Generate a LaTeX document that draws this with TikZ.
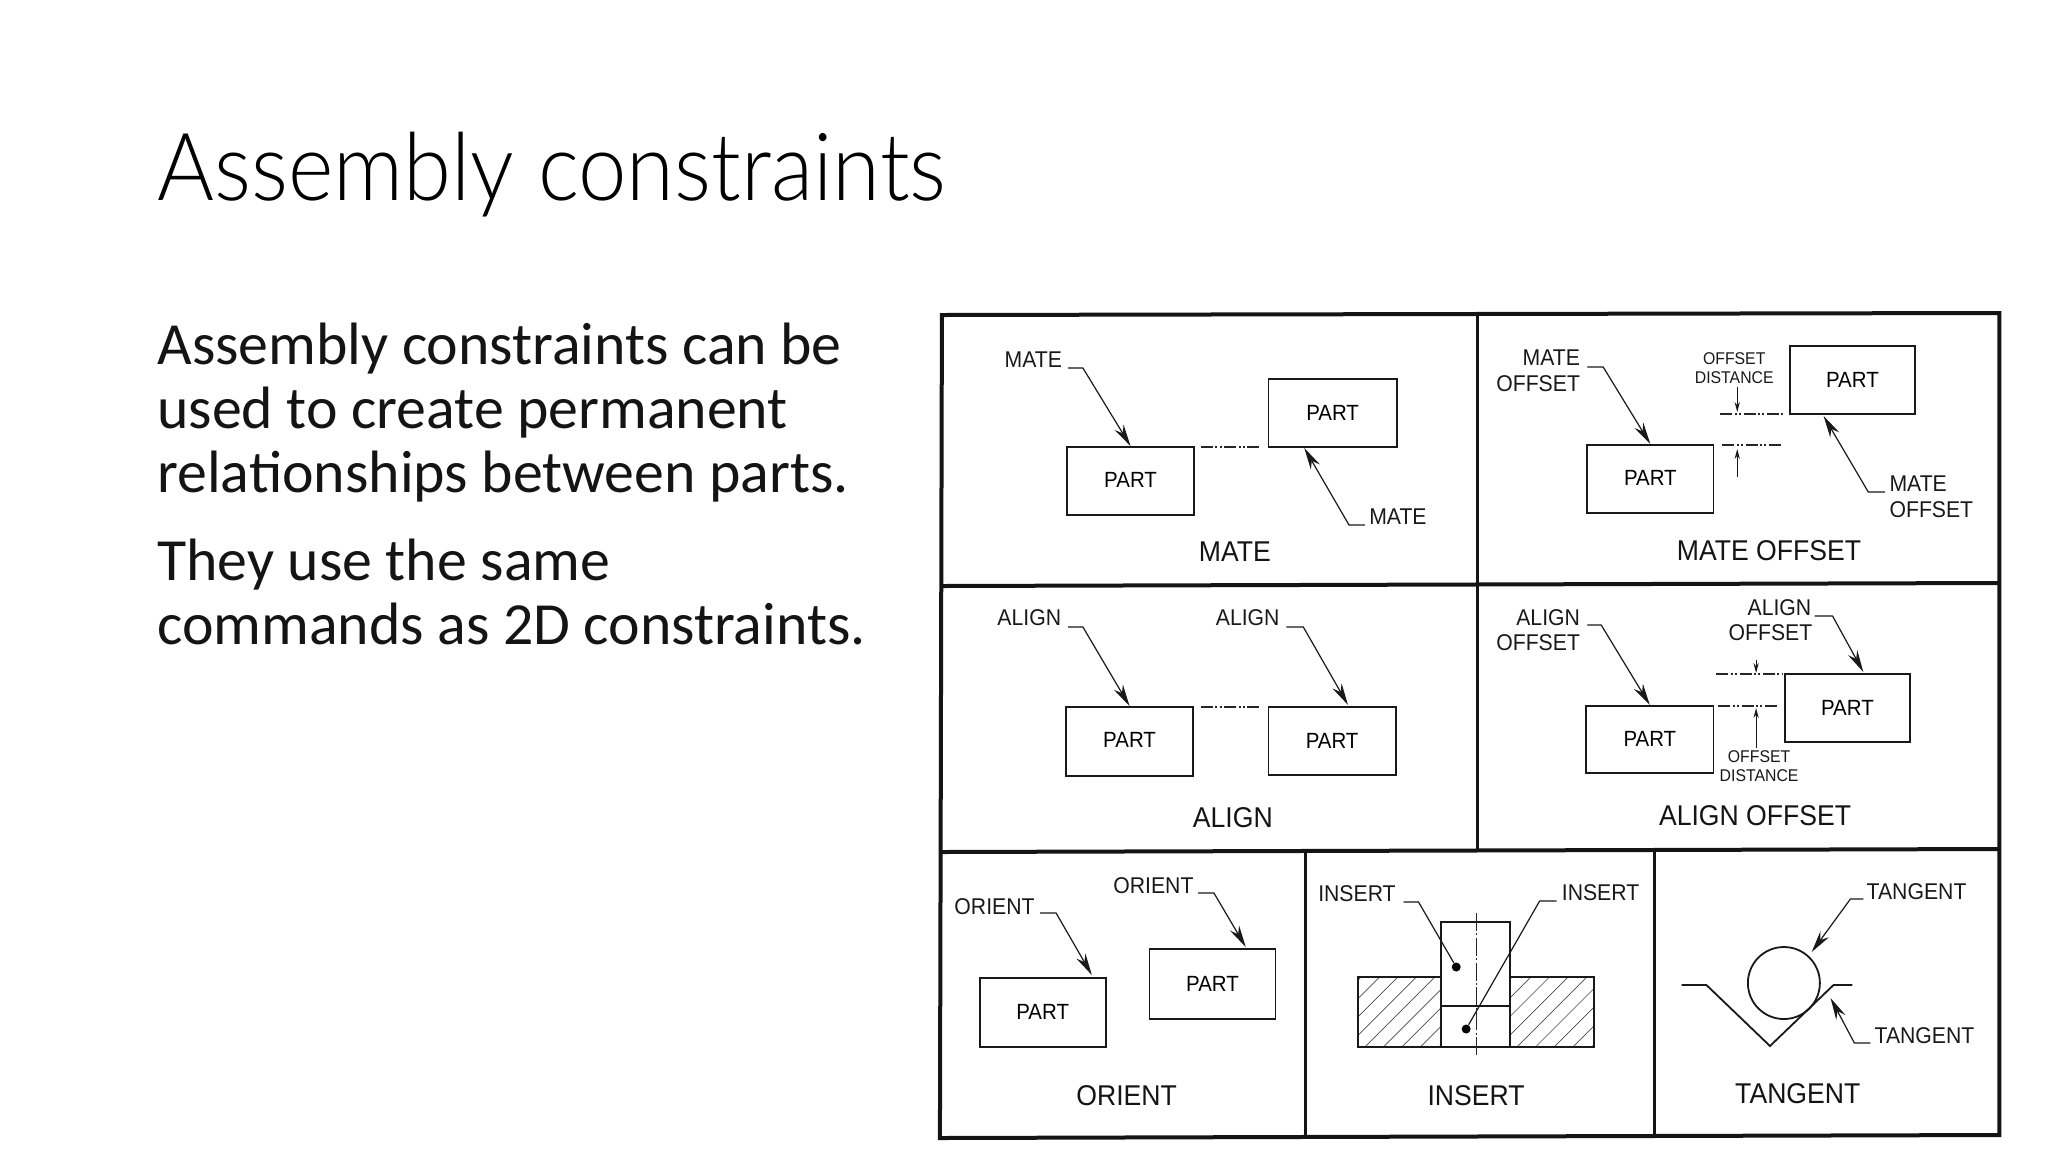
\documentclass[tikz,border=0pt]{standalone}
\usepackage{fontspec}
\usetikzlibrary{arrows.meta}
\setmainfont{Carlito}
\newfontfamily\labfont[FakeStretch=0.93]{Liberation Sans}
\newfontfamily\titlefont[FakeStretch=0.925]{Lato Light}
\tikzset{
  x=0.5pt,y=-0.5pt,
  heading/.style={inner sep=0,anchor=base west,font=\titlefont\fontsize{47}{56}\selectfont,text=black},
  para/.style={inner sep=0,anchor=north west,align=left,font=\fontsize{29.9}{32}\selectfont,text=black!92},
  framel/.style={line width=2pt,black!92},
  divl/.style={line width=1.5pt,black!92},
  partbox/.style={draw=black!90,line width=0.9pt,inner sep=0,fill=white,font=\labfont\fontsize{11}{13}\selectfont},
  lab/.style={inner sep=0,font=\labfont\fontsize{11.4}{13}\selectfont,text=black!90},
  smalllab/.style={inner sep=0,font=\labfont\fontsize{8.5}{10}\selectfont,text=black!90},
  captionlab/.style={inner sep=0,font=\labfont\fontsize{14.3}{16}\selectfont,text=black!92},
  lead/.style={line width=0.6pt,black!90,-{Stealth[length=11pt,width=5.2pt]}},
  leadplain/.style={line width=0.6pt,black!90},
  dimarrow/.style={line width=0.5pt,black!90,-{Stealth[length=5pt,width=2.6pt]}},
  dashdot/.style={line width=0.7pt,black!85,dash pattern=on 6pt off 1.2pt on 1pt off 1.2pt on 1pt off 1.2pt},
  hatchl/.style={line width=0.35pt,black!70},
}
\newcommand{\partnode}[6]{\node[partbox,minimum width={(#4-#2)*0.49645pt},minimum height={(#5-#3)*0.5pt}] (#1) at ({(#2+#4)/2},{(#3+#5)/2}) {\raisebox{#6}{PART}};}
\begin{document}
\begin{tikzpicture}
\useasboundingbox (0,0) rectangle (2048,1152);
\fill[white] (0,0) rectangle (2048,1152);

\node[heading] (title) at (157,200) {Assembly constraints};
\node[para] (p1) at (157,323) {Assembly constraints can be\\used to create permanent\\relationships between parts.};
\node[para] (p2) at (157,539) {They use the same\\commands as 2D constraints.};

\begin{scope}[x=0.49645pt,xshift=3.3pt]
% frame
\draw[framel] (942,315) -- (2007,313) -- (2007,1135) -- (940,1138) -- cycle;
\draw[framel] (942,586) -- (2007,583);
\draw[framel] (942,852) -- (2007,849);
\draw[divl] (1481,314) -- (1481,850);
\draw[divl] (1308,851) -- (1308,1137);
\draw[divl] (1660,850) -- (1660,1136);

% MATE
\partnode{ma}{1068}{447}{1196}{515}{0.65pt}
\partnode{mb}{1271}{379}{1400}{447}{-1.3pt}
\node[lab] (mal1) at (1034,360) {MATE};
\node[lab,anchor=west] (mal2) at (1372,517) {MATE};
\node[captionlab] (macap) at (1237,552) {MATE};
\coordinate (mas1) at (1069,368); \coordinate (mak1) at (1084,368);
\coordinate (mas2) at (1368,525); \coordinate (mak2) at (1352,525);
\coordinate (mat2) at (1307,448);
\coordinate (mad) at (1203,447); \coordinate (mae) at (1264,447);
\draw[lead] (mas1) -- (mak1) -- (ma.north);
\draw[lead] (mas2) -- (mak2) -- (mat2);
\draw[dashdot] (mad) -- (mae);

% MATE OFFSET
\partnode{oa}{1592}{445}{1719}{513}{0.65pt}
\partnode{ob}{1796}{346}{1922}{414}{-1.3pt}
\node[lab,anchor=east] (ol1) at (1585,358) {MATE};
\node[lab,anchor=east] (ol2) at (1585,384) {OFFSET};
\node[smalllab] (od1) at (1740,359) {OFFSET};
\node[smalllab] (od2) at (1740,378) {DISTANCE};
\node[lab,anchor=west] (ol3) at (1896,484) {MATE};
\node[lab,anchor=west] (ol4) at (1896,510) {OFFSET};
\node[captionlab] (ocap) at (1775,551) {MATE OFFSET};
\coordinate (os1) at (1592,367); \coordinate (ok1) at (1608,367);
\coordinate (os2) at (1892,492); \coordinate (ok2) at (1875,492);
\coordinate (ot2) at (1830,416);
\coordinate (ols) at (1726,414); \coordinate (olt) at (1790,414);
\coordinate (ols2) at (1728,445); \coordinate (olt2) at (1787,445);
\coordinate (oda) at (1743,387); \coordinate (odb) at (1743,412);
\coordinate (odc) at (1743,477); \coordinate (odd) at (1743,449);
\draw[lead] (os1) -- (ok1) -- (oa.north);
\draw[lead] (os2) -- (ok2) -- (ot2);
\draw[dashdot] (ols) -- (olt);
\draw[dashdot] (ols2) -- (olt2);
\draw[dimarrow] (oda) -- (odb);
\draw[dimarrow] (odc) -- (odd);

% ALIGN
\partnode{aa}{1067}{707}{1195}{776}{1.3pt}
\partnode{ab}{1271}{707}{1399}{775}{-0.65pt}
\node[lab] (al1) at (1030,618) {ALIGN};
\node[lab] (al2) at (1250,618) {ALIGN};
\node[captionlab] (acap) at (1235,818) {ALIGN};
\coordinate (as1) at (1069,627); \coordinate (ak1) at (1084,627);
\coordinate (as2) at (1289,627); \coordinate (ak2) at (1306,627);
\coordinate (at2) at (1351,705);
\coordinate (add) at (1203,707); \coordinate (ade) at (1264,707);
\draw[lead] (as1) -- (ak1) -- (aa.north);
\draw[lead] (as2) -- (ak2) -- (at2);
\draw[dashdot] (add) -- (ade);

% ALIGN OFFSET
\partnode{fa}{1591}{706}{1719}{773}{0.65pt}
\partnode{fb}{1791}{674}{1917}{742}{-1pt}
\node[lab,anchor=east] (fl1) at (1585,618) {ALIGN};
\node[lab,anchor=east] (fl2) at (1585,643) {OFFSET};
\node[lab,anchor=east] (fl3) at (1818,608) {ALIGN};
\node[lab,anchor=east] (fl4) at (1819,633) {OFFSET};
\node[smalllab] (fd1) at (1765,757) {OFFSET};
\node[smalllab] (fd2) at (1765,776) {DISTANCE};
\node[captionlab] (fcap) at (1761,816) {ALIGN OFFSET};
\coordinate (fs1) at (1592,625); \coordinate (fk1) at (1606,625);
\coordinate (fs2) at (1821,616); \coordinate (fk2) at (1839,616);
\coordinate (ft2) at (1870,672);
\coordinate (fls) at (1722,674); \coordinate (flt) at (1789,674);
\coordinate (fls2) at (1724,706); \coordinate (flt2) at (1785,706);
\coordinate (fda) at (1762,660); \coordinate (fdb) at (1762,673);
\coordinate (fdc) at (1762,748); \coordinate (fdd) at (1762,708);
\draw[lead] (fs1) -- (fk1) -- (fa.north);
\draw[lead] (fs2) -- (fk2) -- (ft2);
\draw[dashdot] (fls) -- (flt);
\draw[dashdot] (fls2) -- (flt2);
\draw[dimarrow] (fda) -- (fdb);
\draw[dimarrow] (fdc) -- (fdd);

% ORIENT
\partnode{ra}{980}{978}{1107}{1047}{0.65pt}
\partnode{rb}{1151}{949}{1278}{1019}{-1.3pt}
\node[lab] (rl1) at (995,907) {ORIENT};
\node[lab] (rl2) at (1155,886) {ORIENT};
\node[captionlab] (rcap) at (1128,1096) {ORIENT};
\coordinate (rs1) at (1041,913); \coordinate (rk1) at (1057,913); \coordinate (rt1) at (1093,975);
\coordinate (rs2) at (1200,893); \coordinate (rk2) at (1216,893); \coordinate (rt2) at (1248,947);
\draw[lead] (rs1) -- (rk1) -- (rt1);
\draw[lead] (rs2) -- (rk2) -- (rt2);

% INSERT
\begin{scope}
\clip (1361,977) rectangle (1445,1047);
\foreach \i in {-5,...,4} \draw[hatchl] ({1368+\i*18.6},1047) -- ++(70.5,-70);
\end{scope}
\begin{scope}
\clip (1514,977) rectangle (1599,1047);
\foreach \i in {-5,...,4} \draw[hatchl] ({1521+\i*18.8},1047) -- ++(70.5,-70);
\end{scope}
\draw[line width=0.9pt,black!90] (1361,977) rectangle (1599,1047);
\draw[line width=0.9pt,black!90,fill=white] (1445,922) rectangle (1514,1047);
\draw[line width=0.9pt,black!90] (1445,1006) -- (1514,1006);
\draw[line width=0.5pt,black!85,dash pattern=on 9pt off 1.2pt on 1pt off 1.2pt] (1480,913) -- (1480,1057);
\node[lab] (il1) at (1360,894) {INSERT};
\node[lab,anchor=west] (il2) at (1566,893) {INSERT};
\node[captionlab] (icap) at (1480,1096) {INSERT};
\node[circle,fill=black,inner sep=0,minimum size=4.5pt] (d1) at (1460,967) {};
\node[circle,fill=black,inner sep=0,minimum size=4.5pt] (d2) at (1470,1029) {};
\coordinate (is1) at (1407,902); \coordinate (ik1) at (1422,902);
\coordinate (is2) at (1561,901); \coordinate (ik2) at (1544,901);
\draw[leadplain] (is1) -- (ik1) -- (d1);
\draw[leadplain] (is2) -- (ik2) -- (d2);

% TANGENT
\node[circle,draw=black!90,line width=0.9pt,inner sep=0,minimum size=36pt] (tc) at (1790,983) {};
\coordinate (v1) at (1687,985); \coordinate (v2) at (1712,985);
\coordinate (v3) at (1776,1046); \coordinate (v4) at (1840,985); \coordinate (v5) at (1859,985);
\draw[line width=0.9pt,black!90] (v1) -- (v2) -- (v3) -- (v4) -- (v5);
\node[lab,anchor=west] (tl1) at (1873,892) {TANGENT};
\node[lab,anchor=west] (tl2) at (1881,1036) {TANGENT};
\node[captionlab] (tcap) at (1804,1094) {TANGENT};
\coordinate (ts1) at (1870,899); \coordinate (tk1) at (1857,899); \coordinate (tt1) at (1818,952);
\coordinate (ts2) at (1877,1043); \coordinate (tk2) at (1861,1043); \coordinate (tt2) at (1837,998);
\draw[lead] (ts1) -- (tk1) -- (tt1);
\draw[lead] (ts2) -- (tk2) -- (tt2);
\end{scope}
\end{tikzpicture}
\end{document}
